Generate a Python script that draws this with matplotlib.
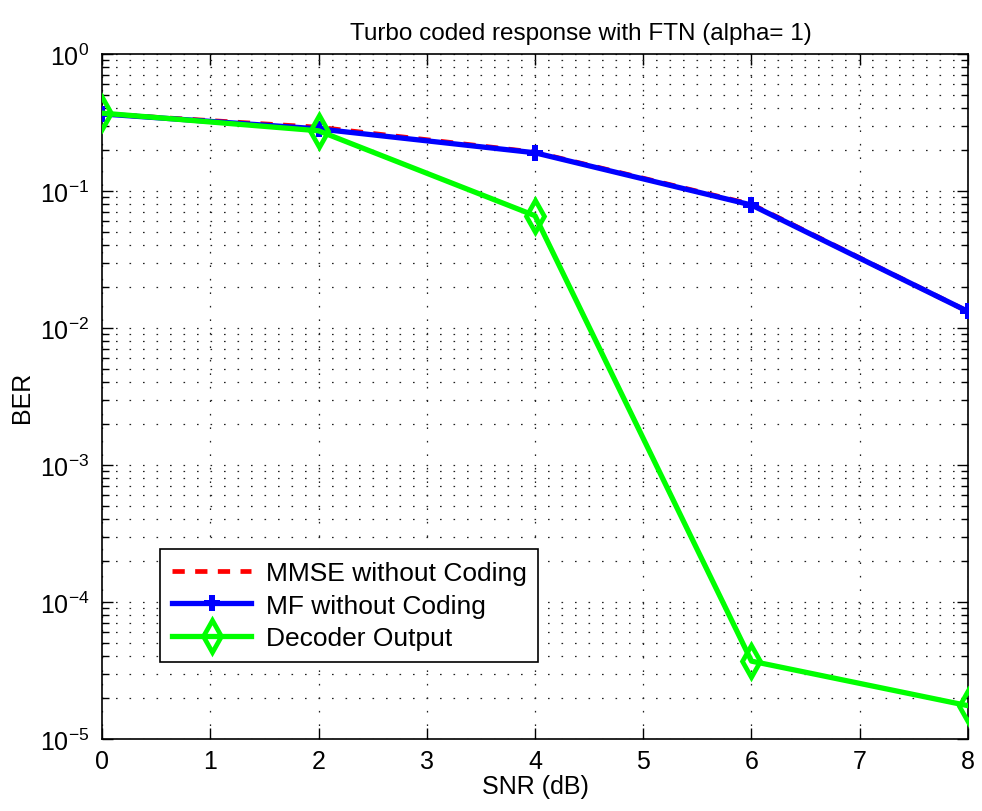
import matplotlib
matplotlib.use("Agg")
import matplotlib.pyplot as plt
import numpy as np
from matplotlib.ticker import LogLocator, NullFormatter, MultipleLocator

plt.rcParams['font.family'] = ['Liberation Sans', 'DejaVu Sans']
plt.rcParams['mathtext.default'] = 'regular'

snr = [0, 2, 4, 6, 8]
ber_mmse = [0.365, 0.292, 0.192, 0.080, 0.0132]
ber_mf = [0.365, 0.284, 0.190, 0.079, 0.0132]
ber_dec = [0.37, 0.275, 0.066, 3.7e-5, 1.75e-5]

labels = ['MMSE without Coding', 'MF without Coding', 'Decoder Output']
title = 'Turbo coded response with FTN (alpha= 1)'

fig = plt.figure(figsize=(9.82, 8.12), dpi=100)
ax = fig.add_axes([0.1039, 0.0887, 0.8818, 0.8436])

ax.semilogy(snr, ber_mmse, '--', color='#ff0000', lw=3.4, dashes=(2.6, 2.2), label=labels[0], zorder=3)
ax.semilogy(snr, ber_mf, '-', color='#0000ff', lw=3.8, marker='P', markersize=12,
            markeredgewidth=0, label=labels[1], zorder=4)
ax.semilogy(snr, ber_dec, '-', color='#00ff00', lw=3.8, marker='d', markersize=16,
            markerfacecolor='none', markeredgewidth=3.4, label=labels[2], zorder=5)

ax.set_xlim(0, 8)
ax.set_ylim(1e-5, 1)
ax.xaxis.set_major_locator(MultipleLocator(1))
ax.yaxis.set_major_locator(LogLocator(base=10, numticks=10))
ax.yaxis.set_minor_locator(LogLocator(base=10, subs=np.arange(2, 10), numticks=10))
ax.yaxis.set_minor_formatter(NullFormatter())

gstyle = dict(color='#222222', linestyle=(0, (1.3, 9.5)), linewidth=0.9)
ax.grid(True, which='major', **gstyle)
ax.grid(True, which='minor', axis='y', **gstyle)

ax.tick_params(which='both', direction='in', top=True, right=True, labelsize=18)
ax.tick_params(which='major', length=8, width=1)
ax.tick_params(which='minor', length=5, width=1)
ax.tick_params(axis='x', pad=7)
ax.tick_params(axis='y', pad=9)
for s in ax.spines.values():
    s.set_linewidth(1.2)

ax.set_title(title, fontsize=17.5, pad=11, x=0.553)
ax.set_xlabel('SNR (dB)', fontsize=18, labelpad=1)
ax.set_ylabel('BER', fontsize=18, labelpad=4)

leg = ax.legend(loc='lower left', bbox_to_anchor=(0.067, 0.112), borderaxespad=0,
                fontsize=19, handlelength=3.0, handletextpad=0.55, fancybox=False,
                edgecolor='black', framealpha=1, borderpad=0.45, labelspacing=0.33)
leg.get_frame().set_linewidth(1.2)

fig.savefig('out.png', dpi=100)
